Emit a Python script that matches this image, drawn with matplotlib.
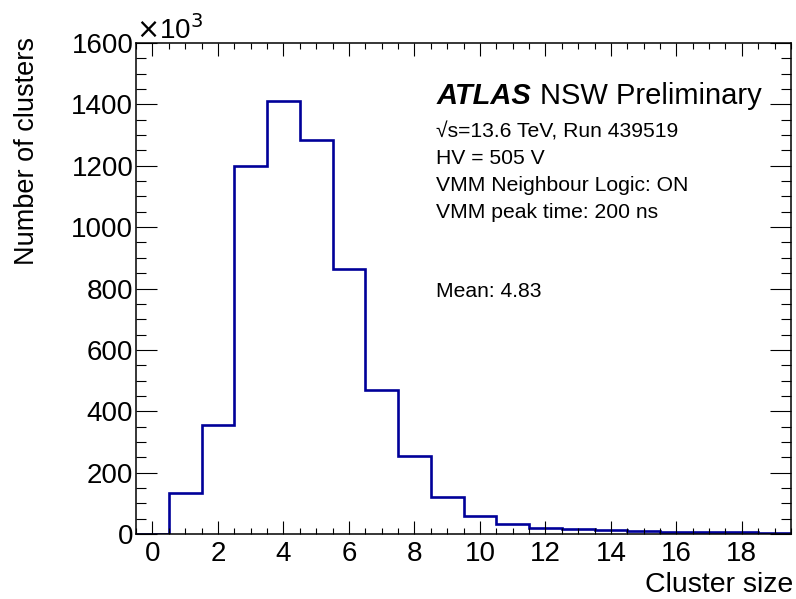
import numpy as np
import matplotlib
matplotlib.use("Agg")
import matplotlib.pyplot as plt
from matplotlib.ticker import MultipleLocator

plt.rcParams['font.family'] = ['Liberation Sans', 'DejaVu Sans']

# cluster size bins 0..19, counts in thousands
cluster_size = np.arange(0, 20)
counts_k = [0, 135, 355, 1200, 1410, 1283, 862, 468, 254, 119,
            59, 33, 21, 16, 12, 10, 8, 7, 5, 4]
edges = np.append(cluster_size - 0.5, cluster_size[-1] + 0.5)

info_lines = ["\u221as=13.6 TeV, Run 439519",
              "HV = 505 V",
              "VMM Neighbour Logic: ON",
              "VMM peak time: 200 ns"]
mean_text = "Mean: 4.83"

fig = plt.figure(figsize=(7.96, 5.99), dpi=100)
ax = fig.add_axes([0.171, 0.1085, 0.8227, 0.8197])

ax.stairs(counts_k, edges, color='#000099', linewidth=1.9)

ax.set_xlim(-0.5, 19.5)
ax.set_ylim(0, 1600)
ax.xaxis.set_major_locator(MultipleLocator(2))
ax.xaxis.set_minor_locator(MultipleLocator(0.5))
ax.yaxis.set_major_locator(MultipleLocator(200))
ax.yaxis.set_minor_locator(MultipleLocator(50))

ax.tick_params(which='both', direction='in', top=True, right=True,
               labelsize=20, width=0.8)
ax.tick_params(axis='x', which='major', length=9.5, pad=5)
ax.tick_params(axis='x', which='minor', length=4.5)
ax.tick_params(axis='y', which='major', length=15, pad=2)
ax.tick_params(axis='y', which='minor', length=7.5)
for sp in ax.spines.values():
    sp.set_linewidth(1.1)

# axis titles placed ROOT-style at the ends of the axes
fig.text(0.034, 0.938, "Number of clusters", fontsize=19.5, rotation=90,
         ha='center', va='top')
fig.text(0.996, 0.012, "Cluster size", fontsize=20.5, ha='right', va='baseline')

fig.text(0.171, 0.935, "$\\times$10$^{3}$", fontsize=20, ha='left', va='baseline')

fig.text(0.548, 0.826, "ATLAS", fontsize=21, fontweight='bold',
         fontstyle='italic', ha='left', va='baseline')
fig.text(0.678, 0.826, "NSW Preliminary", fontsize=21, ha='left', va='baseline')
for i, line in enumerate(info_lines):
    fig.text(0.548, 0.771 - i * 0.045, line, fontsize=15.2,
             ha='left', va='baseline')
fig.text(0.548, 0.505, mean_text, fontsize=15.2, ha='left', va='baseline')

fig.savefig("out.png", dpi=100)
